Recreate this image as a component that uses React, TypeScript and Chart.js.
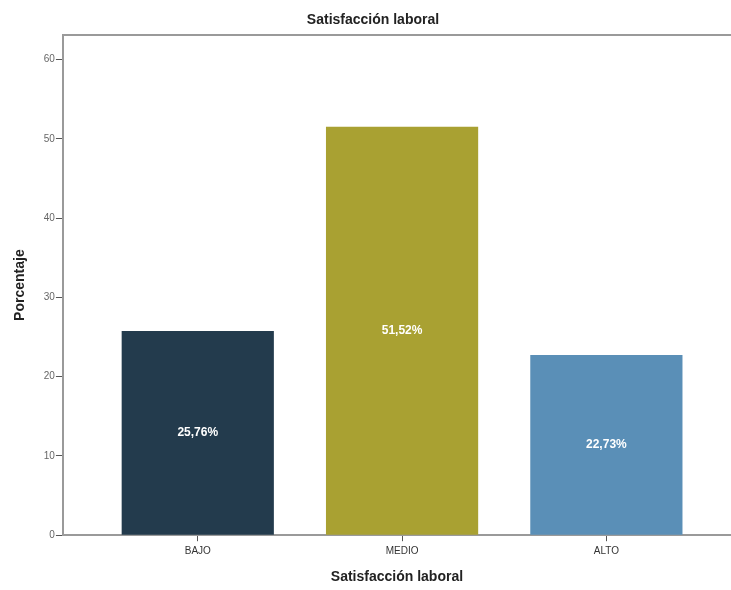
import React, { useEffect, useRef } from "react";
import { Chart, registerables } from "chart.js";

Chart.register(...registerables);

const categories = ["BAJO", "MEDIO", "ALTO"];
const values = [25.76, 51.52, 22.73];
const valueLabels = ["25,76%", "51,52%", "22,73%"];
const barColors = ["#233b4d", "#a9a132", "#5a8fb7"];
const yTicks = [0, 10, 20, 30, 40, 50, 60];

const FONT = "'Liberation Sans', Arial, sans-serif";

const framePlugin = {
  id: "frame",
  afterDraw(chart: any) {
    const { ctx, chartArea } = chart;
    ctx.save();
    ctx.strokeStyle = "#9a9a9a";
    ctx.lineWidth = 2;
    ctx.beginPath();
    ctx.moveTo(chartArea.left, chartArea.top);
    ctx.lineTo(chartArea.right, chartArea.top);
    ctx.stroke();
    ctx.restore();
  },
};

const titlePlugin = {
  id: "topTitle",
  afterDraw(chart: any) {
    const { ctx } = chart;
    ctx.save();
    ctx.fillStyle = "#222";
    ctx.font = `bold 14px ${FONT}`;
    ctx.textAlign = "center";
    ctx.textBaseline = "middle";
    ctx.fillText("Satisfacción laboral", 373, 20);
    ctx.restore();
  },
};

const valueLabelPlugin = {
  id: "valueLabels",
  afterDatasetsDraw(chart: any) {
    const { ctx } = chart;
    const meta = chart.getDatasetMeta(0);
    ctx.save();
    ctx.fillStyle = "#ffffff";
    ctx.font = `bold 12px ${FONT}`;
    ctx.textAlign = "center";
    ctx.textBaseline = "middle";
    meta.data.forEach((bar: any, i: number) => {
      const cy = (bar.y + bar.base) / 2;
      ctx.fillText(valueLabels[i], bar.x, cy);
    });
    ctx.restore();
  },
};

export default function App() {
  const ref = useRef<HTMLCanvasElement | null>(null);

  useEffect(() => {
    document.body.style.margin = "0";
    if (!ref.current) return;
    const chart = new Chart(ref.current, {
      type: "bar",
      data: {
        datasets: [
          {
            data: values.map((v, i) => ({ x: i, y: v })),
            backgroundColor: barColors,
            borderWidth: 0,
            barPercentage: 0.745,
            categoryPercentage: 1,
          },
        ],
      },
      options: {
        animation: false,
        responsive: false,
        devicePixelRatio: 1,
        layout: { padding: { top: 35, right: 0, bottom: 4, left: 12 } },
        plugins: {
          legend: { display: false },
          tooltip: { enabled: false },
          title: { display: false },
        },
        scales: {
          x: {
            type: "linear",
            offset: false,
            min: -0.66,
            max: 2.61,
            afterBuildTicks: (scale: any) => {
              scale.ticks = categories.map((_, i) => ({ value: i }));
            },
            ticks: {
              autoSkip: false,
              maxRotation: 0,
              color: "#333",
              font: { family: FONT, size: 10 },
              padding: 4,
              callback: (v: any) => categories[Number(v)] ?? "",
            },
            grid: {
              display: true,
              offset: false,
              drawOnChartArea: false,
              drawTicks: true,
              tickLength: 6,
              color: "#555",
              lineWidth: 1,
            },
            border: { display: true, color: "#9a9a9a", width: 2 },
            title: {
              display: true,
              text: "Satisfacción laboral",
              color: "#222",
              font: { family: FONT, size: 14, weight: "bold" },
              padding: { top: 8, bottom: 0 },
            },
          },
          y: {
            min: 0,
            max: 63.1,
            afterBuildTicks: (scale: any) => {
              scale.ticks = yTicks.map((v) => ({ value: v }));
            },
            ticks: {
              color: "#666",
              font: { family: FONT, size: 10 },
              padding: 1,
            },
            grid: {
              display: true,
              drawOnChartArea: false,
              drawTicks: true,
              tickLength: 7,
              color: "#555",
              lineWidth: 1,
            },
            border: { display: true, color: "#9a9a9a", width: 2 },
            title: {
              display: true,
              text: "Porcentaje",
              color: "#222",
              font: { family: FONT, size: 14, weight: "bold" },
              padding: { top: 0, bottom: 14 },
            },
          },
        },
      },
      plugins: [framePlugin, titlePlugin, valueLabelPlugin],
    } as any);
    return () => chart.destroy();
  }, []);

  return (
    <div style={{ width: 731, height: 590, background: "#fff" }}>
      <canvas ref={ref} width={731} height={590} style={{ display: "block" }} />
    </div>
  );
}
